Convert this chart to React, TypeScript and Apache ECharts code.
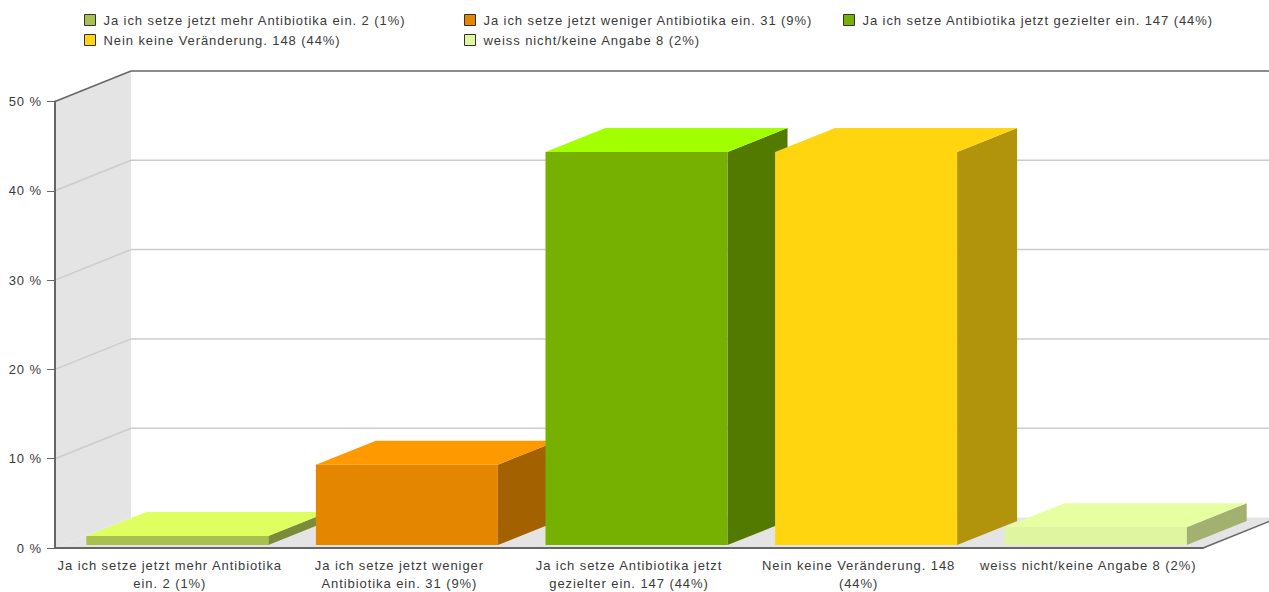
import { useEffect, useRef } from "react";
import * as echarts from "echarts";

const legendNames = [
  "Ja ich setze jetzt mehr Antibiotika ein. 2 (1%)",
  "Ja ich setze jetzt weniger Antibiotika ein. 31 (9%)",
  "Ja ich setze Antibiotika jetzt gezielter ein. 147 (44%)",
  "Nein keine Veränderung. 148 (44%)",
  "weiss nicht/keine Angabe 8 (2%)",
];
const axisCategories = [
  "Ja ich setze jetzt mehr Antibiotika\nein. 2 (1%)",
  "Ja ich setze jetzt weniger\nAntibiotika ein. 31 (9%)",
  "Ja ich setze Antibiotika jetzt\ngezielter ein. 147 (44%)",
  "Nein keine Veränderung. 148\n(44%)",
  "weiss nicht/keine Angabe 8 (2%)",
];
const percentValues = [1, 9, 44, 44, 2];
const frontColors = ["#a8c050", "#e58600", "#76b000", "#ffd510", "#e0f5a0"];
const topColors = ["#dfff60", "#ff9900", "#a2ff00", "#ffd510", "#e6ffa0"];
const sideColors = ["#7a8c3a", "#a36100", "#527900", "#b2940c", "#a2b070"];
const wallTicks = [0, 10, 20, 30, 40, 50];

// Oblique projection of the 3D box: wall depth, bar depth and the bar's inset from the front edge.
const WALL_DX = 76;
const WALL_DY = -30.5;
const BAR_DX = 60;
const BAR_DY = -24;
const INSET_DX = 7.5;
const INSET_DY = -3;
const BAR_WIDTH = 182;
const CANVAS_RIGHT = 1269;

const FONT = "'Liberation Sans', sans-serif";
const TEXT = "#3a3a3a";

const poly = (points: number[][], fill: string) => ({
  type: "polygon",
  shape: { points },
  style: { fill, stroke: null },
});
const seg = (x1: number, y1: number, x2: number, y2: number, stroke: string, lineWidth: number) => ({
  type: "line",
  shape: { x1, y1, x2, y2 },
  style: { stroke, lineWidth, fill: null },
});

// Side wall, floor and the grid lines that run across both walls.
const renderWall = (params: any, api: any) => {
  const v = api.value(0);
  const grid = params.coordSys;
  const y = api.coord([0, v])[1];
  const left = grid.x;
  const right = grid.x + grid.width;
  const back = left + WALL_DX;
  const far = CANVAS_RIGHT + 10;
  const children: any[] = [];
  if (v === 0) {
    const top = api.coord([0, 50])[1];
    const rise = (far - right) * (-WALL_DY / WALL_DX);
    children.push(
      poly([[left, top], [back, top + WALL_DY], [back, y + WALL_DY], [left, y]], "#e4e4e4"),
      poly([[left, y], [back, y + WALL_DY], [far, y + WALL_DY], [far, y - rise], [right, y]], "#e4e4e4"),
      seg(right, y, far, y - rise, "#666666", 1.5),
    );
  } else if (v === 50) {
    children.push(
      seg(left, y, back, y + WALL_DY, "#666666", 1.5),
      seg(back, y + WALL_DY, far, y + WALL_DY, "#666666", 1.5),
    );
  } else {
    children.push(
      seg(left, y, back, y + WALL_DY, "#cccccc", 1.5),
      seg(back, y + WALL_DY, far, y + WALL_DY, "#cccccc", 1.5),
    );
  }
  return { type: "group", children };
};

// One oblique box standing on the floor, sized from its value.
const renderBar = (i: number) => (_params: any, api: any) => {
  const [cx, yTop] = api.coord([api.value(0), api.value(1)]);
  const yBase = api.coord([api.value(0), 0])[1] + INSET_DY;
  const top = yTop + INSET_DY;
  const x0 = cx - BAR_WIDTH / 2 + INSET_DX;
  const x1 = x0 + BAR_WIDTH;
  return {
    type: "group",
    children: [
      poly([[x1, top], [x1 + BAR_DX, top + BAR_DY], [x1 + BAR_DX, yBase + BAR_DY], [x1, yBase]], sideColors[i]),
      poly([[x0, top], [x0 + BAR_DX, top + BAR_DY], [x1 + BAR_DX, top + BAR_DY], [x1, top]], topColors[i]),
      poly([[x0, top], [x1, top], [x1, yBase], [x0, yBase]], frontColors[i]),
    ],
  };
};

const legendSlots = [
  { left: 84, top: 13.5 },
  { left: 464, top: 13.5 },
  { left: 843, top: 13.5 },
  { left: 84, top: 33.5 },
  { left: 464, top: 33.5 },
];

export default function App() {
  const ref = useRef<HTMLDivElement>(null);
  useEffect(() => {
    document.body.style.margin = "0";
    const chart = echarts.init(ref.current!, null, { renderer: "svg" });
    chart.setOption({
      animation: false,
      backgroundColor: "#ffffff",
      grid: { left: 55, top: 101.5, width: 1148, height: 448, containLabel: false },
      legend: legendNames.map((name, i) => ({
        ...legendSlots[i],
        orient: "horizontal",
        padding: 0,
        itemWidth: 11,
        itemHeight: 11,
        itemGap: 0,
        selectedMode: false,
        data: [{ name, icon: "rect", itemStyle: { color: frontColors[i], borderColor: "#333333", borderWidth: 1 } }],
        textStyle: { fontFamily: FONT, fontSize: 13, color: TEXT, padding: [0, 0, 0, 3] },
      })),
      xAxis: {
        type: "category",
        data: axisCategories,
        z: 3,
        axisLine: { lineStyle: { color: "#666666", width: 2 } },
        axisTick: { alignWithLabel: true, length: 5, lineStyle: { color: "#666666" } },
        axisLabel: { interval: 0, fontFamily: FONT, fontSize: 13, color: TEXT, lineHeight: 18, margin: 8 },
      },
      yAxis: {
        type: "value",
        min: 0,
        max: 50,
        interval: 10,
        z: 3,
        splitLine: { show: false },
        axisLine: { show: true, lineStyle: { color: "#666666", width: 2 } },
        axisTick: { show: true, length: 8, lineStyle: { color: "#666666" } },
        axisLabel: { formatter: "{value} %", fontFamily: FONT, fontSize: 13, color: TEXT, margin: 13 },
      },
      series: [
        {
          type: "custom",
          name: "walls",
          z: 1,
          clip: false,
          silent: true,
          encode: { y: 0 },
          coordinateSystem: "cartesian2d",
          data: wallTicks.map((t) => [t]),
          renderItem: renderWall,
        },
        ...legendNames.map((name, i) => ({
          type: "custom",
          name,
          z: 4 + i,
          clip: false,
          coordinateSystem: "cartesian2d",
          encode: { x: 0, y: 1 },
          data: [[i, percentValues[i]]],
          renderItem: renderBar(i),
        })),
      ],
    });
    return () => chart.dispose();
  }, []);
  return <div ref={ref} style={{ width: 1269, height: 592, letterSpacing: "0.92px" }} />;
}
